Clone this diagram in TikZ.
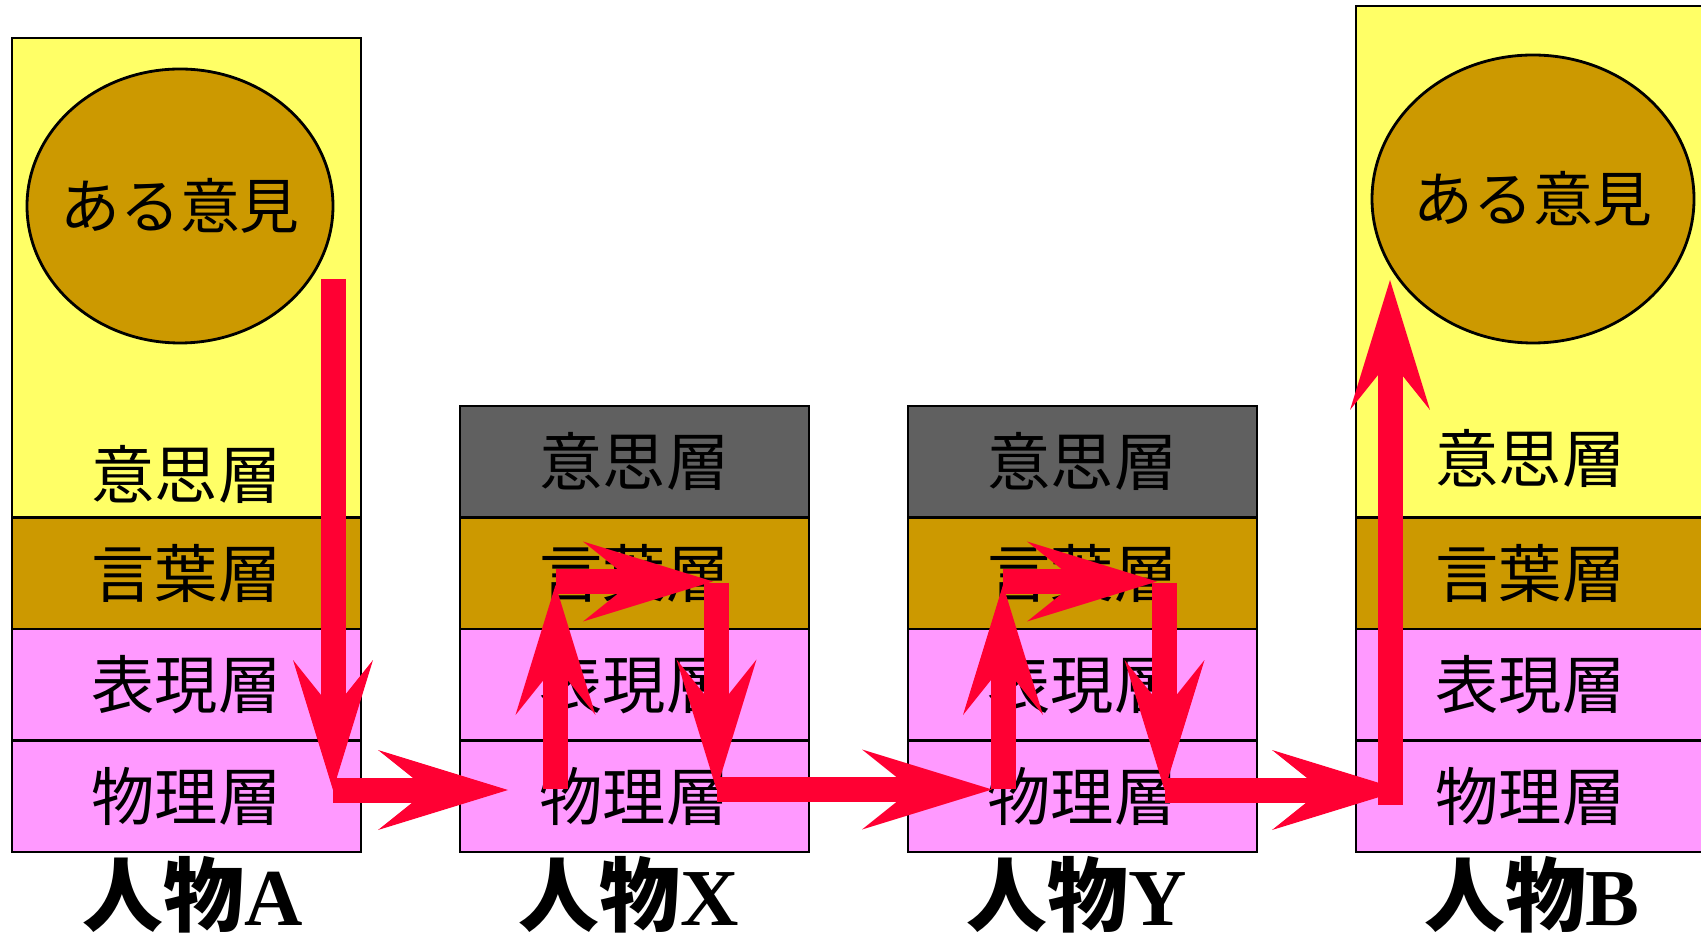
\documentclass[tikz,border=0pt]{standalone}
\usepackage{fontspec}
\setmainfont{Liberation Serif}
\newfontfamily\cjk{Noto Sans CJK JP}
\usetikzlibrary{arrows.meta, shapes.geometric}

\definecolor{thinkyellow}{HTML}{FFFF66}
\definecolor{wordgold}{HTML}{CC9900}
\definecolor{bodypink}{HTML}{FF99FF}
\definecolor{mutegray}{HTML}{606060}
\definecolor{flowred}{HTML}{FF0033}

\tikzset{
  layer/.style={draw=black, line width=0.7pt, minimum width=3.49cm, minimum height=1.115cm, inner sep=0pt, font=\cjk\fontsize{18}{21}\selectfont},
  layertext/.style={inner sep=0pt, font=\cjk\fontsize{18}{21}\selectfont},
  opinion/.style={ellipse, draw=black, line width=0.8pt, fill=wordgold, inner sep=0pt},
  person/.style={font=\bfseries\fontsize{23}{26}\selectfont},
  flow/.style={draw=flowred, line width=0.25cm, -{Stealth[length=1.3cm, width=0.8cm, inset=0.5cm, line width=0pt]}}
}

\begin{document}
\begin{tikzpicture}
\useasboundingbox (0,0) rectangle (17.01,9.41);

% person A
\node[layer, fill=thinkyellow, minimum height=4.795cm] (A4) at (1.865,6.6325) {};
\node[layer, fill=wordgold] (A3) at (1.865,3.6775) {言葉層};
\node[layer, fill=bodypink] (A2) at (1.865,2.5625) {表現層};
\node[layer, fill=bodypink] (A1) at (1.865,1.4475) {物理層};
\node[layertext] (A4t) at (1.865,4.67) {意思層};
\node[opinion, minimum width=3.06cm, minimum height=2.74cm] (Aop) at (1.80,7.35) {};
\node[layertext, font=\cjk\fontsize{17}{20}\selectfont] (Aopt) at (Aop) {ある意見};

% person X
\node[layer, fill=mutegray] (X4) at (6.345,4.7925) {意思層};
\node[layer, fill=wordgold] (X3) at (6.345,3.6775) {言葉層};
\node[layer, fill=bodypink] (X2) at (6.345,2.5625) {表現層};
\node[layer, fill=bodypink] (X1) at (6.345,1.4475) {物理層};

% person Y
\node[layer, fill=mutegray] (Y4) at (10.825,4.7925) {意思層};
\node[layer, fill=wordgold] (Y3) at (10.825,3.6775) {言葉層};
\node[layer, fill=bodypink] (Y2) at (10.825,2.5625) {表現層};
\node[layer, fill=bodypink] (Y1) at (10.825,1.4475) {物理層};

% person B
\node[layer, fill=thinkyellow, minimum height=5.115cm] (B4) at (15.305,6.7925) {};
\node[layer, fill=wordgold] (B3) at (15.305,3.6775) {言葉層};
\node[layer, fill=bodypink] (B2) at (15.305,2.5625) {表現層};
\node[layer, fill=bodypink] (B1) at (15.305,1.4475) {物理層};
\node[layertext] (B4t) at (15.305,4.83) {意思層};
\node[opinion, minimum width=3.22cm, minimum height=2.88cm] (Bop) at (15.33,7.42) {};
\node[layertext, font=\cjk\fontsize{17}{20}\selectfont] (Bopt) at (Bop) {ある意見};

\node[person] (pA) at (1.93,0.46) {{\cjk 人物}A};
\node[person] (pX) at (6.29,0.46) {{\cjk 人物}X};
\node[person] (pY) at (10.77,0.46) {{\cjk 人物}Y};
\node[person] (pB) at (15.32,0.46) {{\cjk 人物}B};

% route of the opinion
\coordinate (a0) at (3.33,6.62);
\coordinate (a1) at (3.33,1.51);
\coordinate (x0) at (5.08,1.51);
\coordinate (x1) at (5.555,1.52);
\coordinate (x2) at (5.555,3.595);
\coordinate (x3) at (7.13,3.595);
\coordinate (x4) at (7.165,3.58);
\coordinate (x5) at (7.165,1.515);
\coordinate (y0) at (9.92,1.515);
\coordinate (y1) at (10.03,1.52);
\coordinate (y2) at (10.03,3.595);
\coordinate (y3) at (11.57,3.595);
\coordinate (y4) at (11.645,3.58);
\coordinate (y5) at (11.645,1.51);
\coordinate (b0) at (14.02,1.51);
\coordinate (b1) at (13.90,1.36);
\coordinate (b2) at (13.90,6.61);

\draw[flow] (a0) -- (a1);
\draw[flow] (a1) -- (x0);
\draw[flow] (x1) -- (x2 |- 0,3.56);
\draw[flow] (x2) -- (x3);
\draw[flow] (x4) -- (x5);
\draw[flow] (x5) -- (y0);
\draw[flow] (y1) -- (y2 |- 0,3.56);
\draw[flow] (y2) -- (y3);
\draw[flow] (y4) -- (y5);
\draw[flow] (y5) -- (b0);
\draw[flow] (b1) -- (b2);
\end{tikzpicture}
\end{document}
